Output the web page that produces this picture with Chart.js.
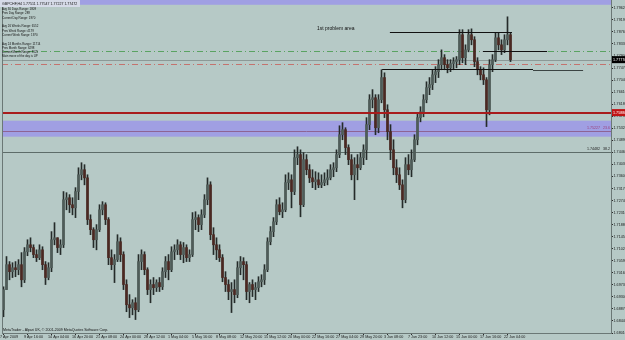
<!DOCTYPE html>
<html><head><meta charset="utf-8">
<script src="https://cdn.jsdelivr.net/npm/chart.js"></script>
<style>
html,body{margin:0;padding:0;background:#b6c9c6;overflow:hidden;width:625px;height:340px;}
#wrap{position:absolute;left:0;top:0;width:640px;height:340px;}
canvas{display:block;}
</style></head><body>
<div id="wrap"><canvas id="c" width="640" height="340"></canvas></div>
<script>
// ---------- DATA ----------
const titleText = "GBPCHF,H4 1.77511 1.77547 1.77227 1.77472";
const opens = [1.6884,1.6956,1.7045,1.7020,1.7034,1.7027,1.7045,1.6991,1.7091,1.7116,
1.7106,1.7081,1.7070,1.7098,1.7045,1.6999,1.7034,1.7134,1.7141,1.7106,
1.7116,1.7277,1.7284,1.7259,1.7248,1.7306,1.7366,1.7384,1.7355,1.7206,
1.7170,1.7134,1.7170,1.7241,1.7259,1.7206,1.7070,1.7045,1.7063,1.7127,
1.7081,1.6974,1.6902,1.6891,1.6909,1.6884,1.7056,1.7081,1.7027,1.6956,
1.6974,1.6963,1.6981,1.6966,1.7020,1.7056,1.7027,1.7091,1.7098,1.7116,
1.7081,1.7106,1.7070,1.7081,1.7206,1.7213,1.7188,1.7223,1.7277,1.7330,
1.7152,1.7116,1.7098,1.7070,1.6999,1.6974,1.6949,1.6956,1.6938,1.7034,
1.7056,1.7045,1.6949,1.6974,1.6956,1.6963,1.6984,1.6991,1.7027,1.7127,
1.7163,1.7198,1.7259,1.7234,1.7241,1.7338,1.7348,1.7306,1.7427,1.7438,
1.7259,1.7420,1.7384,1.7355,1.7341,1.7348,1.7330,1.7338,1.7348,1.7355,
1.7384,1.7391,1.7438,1.7509,1.7527,1.7463,1.7420,1.7366,1.7402,1.7391,
1.7427,1.7455,1.7545,1.7634,1.7641,1.7534,1.7634,1.7713,1.7598,1.7520,
1.7455,1.7391,1.7366,1.7330,1.7277,1.7402,1.7384,1.7420,1.7491,1.7570,
1.7591,1.7634,1.7677,1.7688,1.7723,1.7734,1.7759,1.7784,1.7759,1.7748,
1.7763,1.7770,1.7777,1.7866,1.7784,1.7812,1.7866,1.7848,1.7770,1.7741,
1.7723,1.7705,1.7598,1.7759,1.7777,1.7855,1.7830,1.7812,1.7848,1.7866];
const highs = [1.6966,1.7074,1.7056,1.7052,1.7056,1.7063,1.7088,1.7106,1.7134,1.7141,
1.7116,1.7098,1.7116,1.7109,1.7056,1.7052,1.7163,1.7195,1.7141,1.7134,
1.7306,1.7302,1.7295,1.7284,1.7320,1.7391,1.7409,1.7402,1.7366,1.7223,
1.7177,1.7188,1.7259,1.7270,1.7266,1.7213,1.7098,1.7081,1.7152,1.7141,
1.7091,1.6991,1.6938,1.6920,1.6927,1.7081,1.7098,1.7091,1.7034,1.6991,
1.6999,1.6991,1.6999,1.7034,1.7074,1.7081,1.7109,1.7116,1.7134,1.7127,
1.7124,1.7116,1.7098,1.7231,1.7234,1.7223,1.7241,1.7295,1.7355,1.7341,
1.7177,1.7141,1.7116,1.7081,1.7020,1.6991,1.6981,1.6991,1.7056,1.7074,
1.7070,1.7056,1.6981,1.6991,1.6981,1.7002,1.7009,1.7045,1.7141,1.7181,
1.7213,1.7277,1.7284,1.7266,1.7366,1.7373,1.7366,1.7455,1.7466,1.7455,
1.7445,1.7438,1.7402,1.7384,1.7377,1.7373,1.7366,1.7373,1.7384,1.7402,
1.7409,1.7455,1.7541,1.7552,1.7534,1.7473,1.7438,1.7427,1.7438,1.7445,
1.7473,1.7570,1.7652,1.7670,1.7652,1.7652,1.7741,1.7730,1.7616,1.7545,
1.7491,1.7420,1.7391,1.7348,1.7427,1.7438,1.7455,1.7509,1.7588,1.7609,
1.7652,1.7698,1.7713,1.7741,1.7752,1.7777,1.7812,1.7795,1.7777,1.7777,
1.7784,1.7788,1.7884,1.7884,1.7830,1.7884,1.7887,1.7859,1.7784,1.7752,
1.7748,1.7713,1.7777,1.7795,1.7873,1.7873,1.7848,1.7866,1.7930,1.7873];
const lows = [1.6859,1.6956,1.6991,1.6999,1.7002,1.7009,1.6966,1.6981,1.7077,1.7091,
1.7070,1.7056,1.7063,1.7027,1.6974,1.6991,1.7020,1.7116,1.7088,1.7081,
1.7106,1.7241,1.7231,1.7223,1.7213,1.7277,1.7348,1.7330,1.7188,1.7152,
1.7106,1.7098,1.7163,1.7223,1.7188,1.7045,1.7027,1.6981,1.7056,1.7056,
1.6956,1.6877,1.6856,1.6866,1.6849,1.6877,1.7027,1.7009,1.6938,1.6909,
1.6938,1.6949,1.6949,1.6956,1.6999,1.6991,1.7020,1.7063,1.7081,1.7063,
1.7052,1.7056,1.7056,1.7074,1.7170,1.7163,1.7170,1.7213,1.7259,1.7134,
1.7081,1.7063,1.7056,1.6984,1.6949,1.6920,1.6874,1.6909,1.6927,1.7009,
1.6991,1.6920,1.6909,1.6931,1.6920,1.6949,1.6966,1.6974,1.7020,1.7116,
1.7145,1.7188,1.7223,1.7213,1.7234,1.7313,1.7248,1.7295,1.7402,1.7216,
1.7252,1.7366,1.7338,1.7320,1.7313,1.7320,1.7320,1.7327,1.7330,1.7348,
1.7359,1.7377,1.7427,1.7491,1.7438,1.7402,1.7348,1.7277,1.7348,1.7384,
1.7402,1.7420,1.7527,1.7605,1.7509,1.7516,1.7623,1.7570,1.7491,1.7420,
1.7366,1.7338,1.7313,1.7248,1.7266,1.7366,1.7359,1.7413,1.7473,1.7555,
1.7573,1.7623,1.7652,1.7670,1.7695,1.7713,1.7741,1.7741,1.7730,1.7734,
1.7741,1.7748,1.7759,1.7766,1.7759,1.7805,1.7830,1.7752,1.7723,1.7705,
1.7688,1.7538,1.7580,1.7734,1.7770,1.7812,1.7795,1.7802,1.7830,1.7770];
const closes = [1.6956,1.7045,1.7020,1.7034,1.7027,1.7045,1.6991,1.7091,1.7116,1.7106,
1.7081,1.7070,1.7098,1.7045,1.6999,1.7034,1.7134,1.7141,1.7106,1.7116,
1.7277,1.7284,1.7259,1.7248,1.7306,1.7366,1.7384,1.7355,1.7206,1.7170,
1.7134,1.7170,1.7241,1.7259,1.7206,1.7070,1.7045,1.7063,1.7127,1.7081,
1.6974,1.6902,1.6891,1.6909,1.6884,1.7056,1.7081,1.7027,1.6956,1.6974,
1.6963,1.6981,1.6966,1.7020,1.7056,1.7027,1.7091,1.7098,1.7116,1.7081,
1.7106,1.7070,1.7081,1.7206,1.7213,1.7188,1.7223,1.7277,1.7330,1.7152,
1.7116,1.7098,1.7070,1.6999,1.6974,1.6949,1.6956,1.6938,1.7034,1.7056,
1.7045,1.6949,1.6974,1.6956,1.6963,1.6984,1.6991,1.7027,1.7127,1.7163,
1.7198,1.7259,1.7234,1.7241,1.7338,1.7348,1.7306,1.7427,1.7438,1.7259,
1.7420,1.7384,1.7355,1.7341,1.7348,1.7330,1.7338,1.7348,1.7355,1.7384,
1.7391,1.7438,1.7509,1.7527,1.7463,1.7420,1.7366,1.7402,1.7391,1.7427,
1.7455,1.7545,1.7634,1.7641,1.7534,1.7634,1.7713,1.7598,1.7520,1.7455,
1.7391,1.7366,1.7330,1.7277,1.7402,1.7384,1.7420,1.7491,1.7570,1.7591,
1.7634,1.7677,1.7688,1.7723,1.7734,1.7759,1.7784,1.7759,1.7748,1.7763,
1.7770,1.7777,1.7866,1.7784,1.7812,1.7866,1.7848,1.7770,1.7741,1.7723,
1.7705,1.7598,1.7759,1.7777,1.7855,1.7830,1.7812,1.7848,1.7866,1.7777];
const emptySlots = 33;
const xTickLabels = ["7 Apr 2009","9 Apr 16:00","14 Apr 04:00","16 Apr 20:00","21 Apr 08:00","24 Apr 00:00",
"28 Apr 12:00","1 May 04:00","5 May 16:00","8 May 08:00","12 May 20:00","15 May 12:00","20 May 00:00",
"22 May 16:00","27 May 04:00","29 May 20:00","3 Jun 08:00","7 Jun 23:00","10 Jun 12:00","15 Jun 00:00",
"17 Jun 16:00","22 Jun 04:00"];
const yTicks = [1.7962,1.7919,1.7876,1.7833,1.7790,1.7747,1.7704,1.7661,1.7618,1.7575,1.7532,1.7489,1.7446,1.7403,
1.7360,1.7317,1.7274,1.7231,1.7188,1.7145,1.7102,1.7059,1.7016,1.6973,1.6930,1.6887,1.6844,1.6801];
const infoLines = ["Avg 30 Days Range: 1809","Prev Day Range: 289","Current Day Range: 1970","",
"Avg 26 Weeks Range: 6552","Prev Week Range: 4179","Current Week Range: 1970","",
"Avg 24 Months Range: 11714","Prev Month Range: 6298","Current Month Range: 8125","Main move of the day is UP"];
const topBand = [1.7990, 1.7973];
const zoneBand = [1.7559, 1.7502];
const fib236 = 1.75227, fib382 = 1.74482;
const redLevel = 1.7588;
const greenDashLevel = 1.7809, redDashLevel = 1.7763;
const bidPrice = 1.7777;
const trendFrom = [128.8, 159.8, 126.2, 176.5];
const trendTo = [169.5, 181.2, 176.5, 193.2];
const trendPrice = [1.7877, 1.7808, 1.7745, 1.7741];
const noteText = "1st problem area", noteBar = 104.5, notePrice = 1.7887;
const copyright = "MetaTrader - Alpari UK, \u00A9 2001-2009 MetaQuotes Software Corp.";

// ---------- STYLE ----------
const BG = '#b6c9c6', PURPLE = '#a09fe3', FONT = '"Liberation Sans", Arial, sans-serif';
const BULL = '#4f5c59', BEAR = '#4b2822', WICK = '#252b2a';

const n = opens.length, total = n + emptySlots;
const slots = Array.from({length: total}, (_, i) => String(i));
const wickData = slots.map((_, i) => i < n ? [lows[i], highs[i]] : null);
const bodyData = slots.map((_, i) => i < n ? [opens[i], closes[i]] : null);
const bodyColors = slots.map((_, i) => i < n && closes[i] < opens[i] ? BEAR : BULL);

function txt(ctx, s, x, y, size, color, sx, align) {
  ctx.save(); ctx.translate(x, y); ctx.scale(sx, 1);
  ctx.font = size + 'px ' + FONT; ctx.fillStyle = color;
  ctx.textBaseline = 'middle'; ctx.textAlign = align || 'left';
  ctx.fillText(s, 0, 0); ctx.restore();
}

const bgPlugin = {id:'bgp', beforeDraw(c){ const x=c.ctx; x.save(); x.fillStyle=BG; x.fillRect(0,0,c.width,c.height); x.restore(); }};

const levelsPlugin = {
  id: 'levels',
  beforeDatasetsDraw(chart) {
    const {ctx, chartArea: a, scales: {y: ys}} = chart;
    ctx.save();
    ctx.beginPath(); ctx.rect(a.left, a.top, a.right - a.left, a.bottom - a.top); ctx.clip();
    const band = (p1, p2, col) => { const y1 = ys.getPixelForValue(p1), y2 = ys.getPixelForValue(p2);
      ctx.fillStyle = col; ctx.fillRect(a.left, Math.min(y1, y2), a.right - a.left, Math.abs(y2 - y1)); };
    band(topBand[0], topBand[1], PURPLE);
    band(zoneBand[0], zoneBand[1], PURPLE);
    const hline = (p, col, w, dash) => { const y = Math.round(ys.getPixelForValue(p)) + (w % 2 ? 0.5 : 0);
      ctx.strokeStyle = col; ctx.lineWidth = w; ctx.setLineDash(dash || []);
      ctx.beginPath(); ctx.moveTo(a.left, y); ctx.lineTo(a.right, y); ctx.stroke(); };
    hline(fib236, '#8d6494', 1);
    hline(fib382, '#5d6c69', 1);
    hline(greenDashLevel, '#5aa362', 1, [6, 3, 1, 3]);
    hline(redDashLevel, '#c4736e', 1, [6, 3, 1, 3]);
    hline(bidPrice, '#8c9997', 1);
    ctx.restore();
  },
  afterDatasetsDraw(chart) {
    const {ctx, chartArea: a, scales: {x: xs, y: ys}} = chart;
    ctx.save();
    const ry = Math.round(ys.getPixelForValue(redLevel));
    ctx.strokeStyle = '#a81c1c'; ctx.lineWidth = 2;
    ctx.beginPath(); ctx.moveTo(a.left, ry); ctx.lineTo(a.right, ry); ctx.stroke();
    ctx.lineWidth = 1;
    trendFrom.forEach((f, i) => {
      const y = Math.round(ys.getPixelForValue(trendPrice[i])) + 0.5;
      ctx.strokeStyle = i === 3 ? '#3b4443' : '#111';
      ctx.beginPath(); ctx.moveTo(xs.getPixelForValue(f), y); ctx.lineTo(xs.getPixelForValue(trendTo[i]), y); ctx.stroke();
    });
    const f1 = ys.getPixelForValue(fib236) - 2.5, f2 = ys.getPixelForValue(fib382) - 2.5;
    txt(ctx, fib236.toFixed(5), 600, f1, 3.6, '#9b3f7a', 1, 'right');
    txt(ctx, '23.6', 610, f1, 3.6, '#9b3f7a', 1, 'right');
    txt(ctx, fib382.toFixed(5), 600, f2, 3.6, '#1c1c1c', 1, 'right');
    txt(ctx, '38.2', 610, f2, 3.6, '#1c1c1c', 1, 'right');
    txt(ctx, noteText, xs.getPixelForValue(noteBar), ys.getPixelForValue(notePrice), 5, '#111', 1);
    ctx.strokeStyle = '#6b7876'; ctx.beginPath(); ctx.moveTo(a.left + 0.5, a.top); ctx.lineTo(a.left + 0.5, a.bottom); ctx.stroke();
    ctx.restore();
  },
  afterDraw(chart) {
    const {ctx, chartArea: a, scales: {y: ys}} = chart;
    ctx.save();
    const box = (p, fill) => { const y = ys.getPixelForValue(p);
      ctx.fillStyle = fill; ctx.fillRect(a.right + 1, y - 3.5, 30, 7);
      txt(ctx, p.toFixed(5), a.right + 2, y, 3.7, '#fff', 1); };
    box(bidPrice, '#000');
    box(redLevel, '#c01414');
    ctx.fillStyle = '#d6dbe8'; ctx.fillRect(0, 0, 80, 7);
    txt(ctx, titleText, 2, 4, 4.3, '#111', 0.83);
    infoLines.forEach((s, i) => { if (s) txt(ctx, s, 2, 9 + i * 4.3, 4.3, '#111', 0.68); });
    txt(ctx, copyright, 3, 330, 3.6, '#111', 1);
    ctx.restore();
  }
};

new Chart(document.getElementById('c'), {
  type: 'bar',
  data: {
    labels: slots,
    datasets: [
      {data: wickData, backgroundColor: WICK, barThickness: 1, grouped: false, order: 2, borderWidth: 0},
      {data: bodyData, backgroundColor: bodyColors, barThickness: 2, grouped: false, order: 1, borderWidth: 0, minBarLength: 1}
    ]
  },
  options: {
    responsive: false, animation: false, devicePixelRatio: 1,
    layout: {padding: {left: 2, top: 0, right: 0, bottom: 0}},
    plugins: {legend: {display: false}, tooltip: {enabled: false}},
    scales: {
      x: {
        type: 'category', offset: true,
        grid: {display: true, drawOnChartArea: false, drawTicks: true, tickLength: 2, offset: false,
          color: c => (c.index % 8 === 0 && c.index / 8 < xTickLabels.length) ? '#2a2a2a' : 'rgba(0,0,0,0)'},
        border: {display: true, color: '#6b7876'},
        ticks: {autoSkip: false, maxRotation: 0, minRotation: 0, align: 'start', padding: 0, labelOffset: -3.5,
          font: {size: 3.7, family: FONT}, color: '#1a1a1a',
          callback: (v, i) => (i % 8 === 0 && i / 8 < xTickLabels.length) ? xTickLabels[i / 8] : ''},
        afterFit: s => { s.height = 7; s.paddingLeft = 0; s.paddingRight = 0; }
      },
      y: {
        position: 'right', min: 1.6801, max: 1.7990,
        afterBuildTicks: s => { s.ticks = yTicks.map(v => ({value: v})); },
        grid: {drawOnChartArea: false, tickLength: 2, color: '#2a2a2a'},
        border: {display: true, color: '#6b7876'},
        ticks: {autoSkip: false, padding: 0.5, font: {size: 3.7, family: FONT}, color: '#1a1a1a',
          callback: v => Number(v).toFixed(5)},
        afterFit: s => { s.width = 29; s.paddingTop = 0; s.paddingBottom = 0; }
      }
    }
  },
  plugins: [bgPlugin, levelsPlugin]
});
</script>
</body></html>
